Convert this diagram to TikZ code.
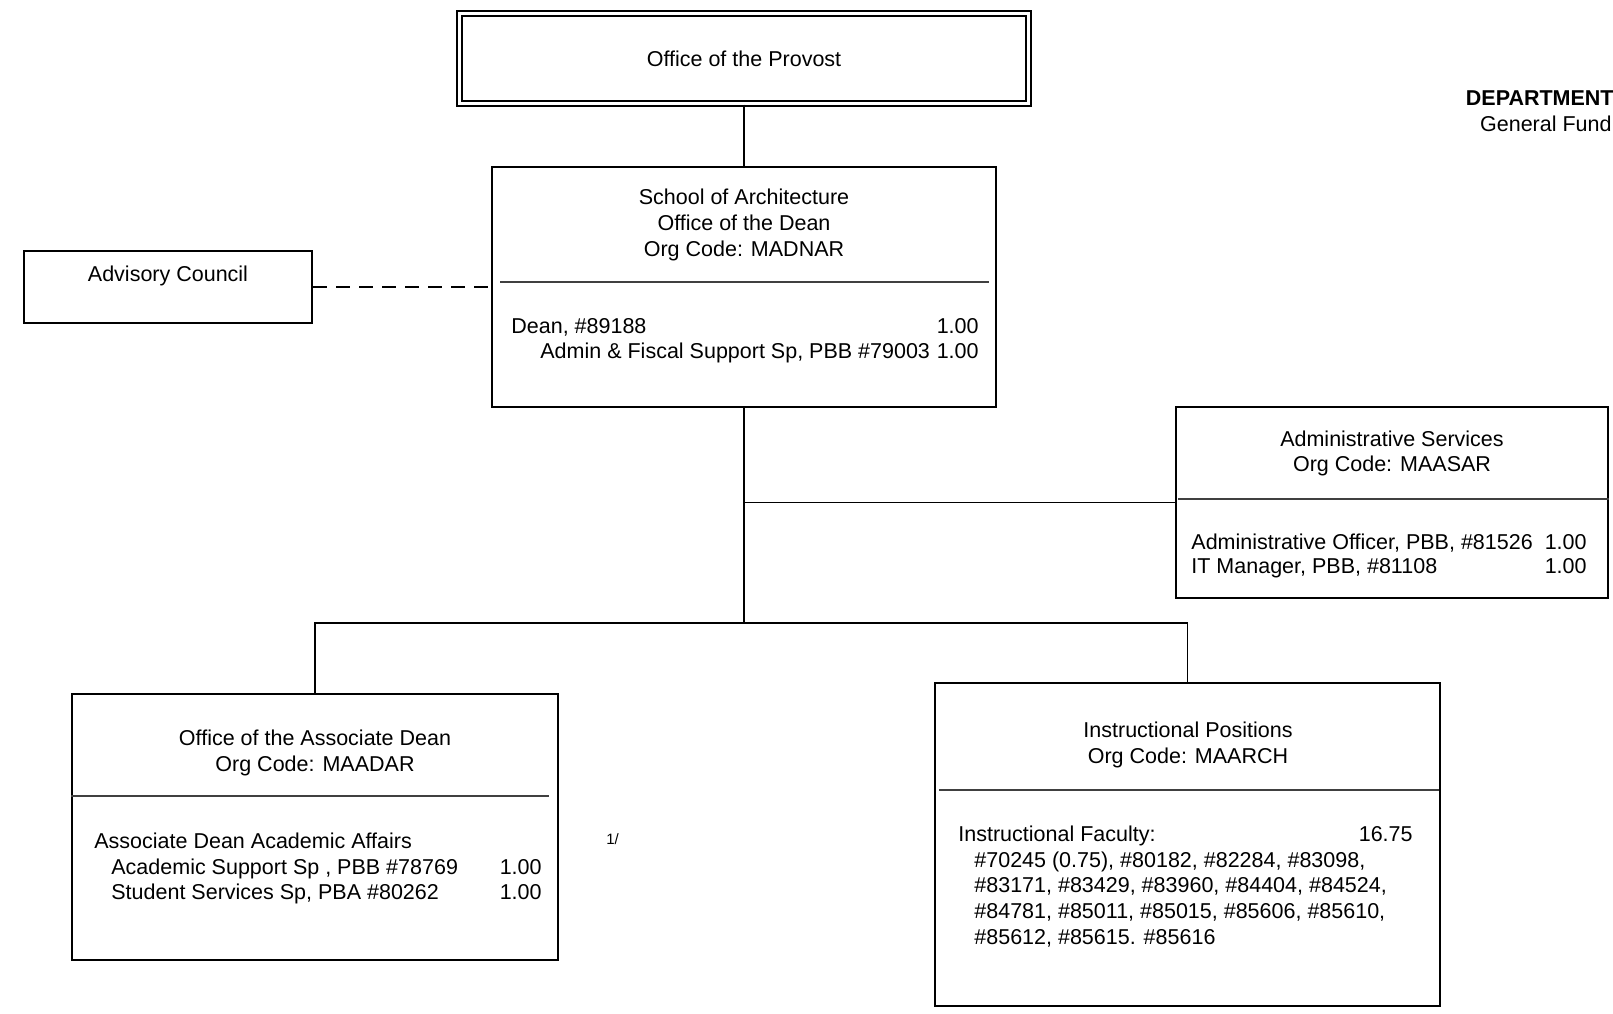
\documentclass[tikz,border=0pt]{standalone}
\usepackage{fontspec}
\setmainfont{Liberation Sans}
\begin{document}
\begin{tikzpicture}[x=0.5pt,y=-0.5pt,
  box/.style={draw=black,line width=1pt,inner sep=0pt,rectangle},
  sep/.style={draw=black!75,line width=0.7pt},
  conn/.style={draw=black,line width=0.9pt},
  txt/.style={inner sep=0pt,font=\fontsize{10.75pt}{12.85pt}\selectfont},
  tl/.style={txt,anchor=base west},
  tc/.style={txt,anchor=base},
  tr/.style={txt,anchor=base east}]
\useasboundingbox (0,0) rectangle (1613,1013);

% boxes
\node[box,double,double distance=1.5pt,minimum width=284.5pt,minimum height=45pt] (provost) at (744,58.5) {};
\node[box,minimum width=252pt,minimum height=120pt] (dean) at (744,287) {};
\node[box,minimum width=144pt,minimum height=36pt] (adv) at (168,287) {};
\node[box,minimum width=216pt,minimum height=95.5pt] (admin) at (1392,502.5) {};
\node[box,minimum width=243pt,minimum height=133pt] (assoc) at (315,827) {};
\node[box,minimum width=252.5pt,minimum height=161.5pt] (instr) at (1187.5,844.5) {};

% separators
\draw[sep] ([shift={(9,116)}]dean.north west) -- ([shift={(-8,116)}]dean.north east);
\draw[sep] ([shift={(3,93)}]admin.north west) -- ([shift={(0,93)}]admin.north east);
\draw[sep] ([shift={(0,103)}]assoc.north west) -- ([shift={(-10,103)}]assoc.north east);
\draw[sep] ([shift={(5,108)}]instr.north west) -- ([shift={(-2,108)}]instr.north east);

% connectors
\coordinate (bar) at (744,623);
\draw[conn] (provost.south) -- (dean.north);
\draw[conn,dash pattern=on 7pt off 4.5pt] (adv.east) -- (dean.west);
\draw[conn] (dean.south) -- (bar);
\draw[conn] (dean.south |- admin.west) -- (admin.west);
\draw[conn] (assoc.north) -- (assoc.north |- bar) -- (instr.north |- bar) -- (instr.north);

% texts
\node[tc] (tprov) at (744,66) {Office of the Provost};

\node[tr,font=\bfseries\fontsize{10.75pt}{12.85pt}\selectfont] (tdept) at (1614,105) {DEPARTMENT};
\node[tr] (tfund) at (1612,131) {General Fund};

\node[tc] (td1) at (744,204) {School of Architecture};
\node[tc] (td2) at (744,230) {Office of the Dean};
\node[tc] (td3) at (744,256) {Org Code: MADNAR};
\node[tl] (td4) at (511,333) {Dean, \#89188};
\node[tr] (td4n) at (979,333) {1.00};
\node[tl] (td5) at (540,358) {Admin \& Fiscal Support Sp, PBB \#79003};
\node[tr] (td5n) at (979,358) {1.00};

\node[tc] (tadv) at (168,281) {Advisory Council};

\node[tc] (ta1) at (1392,446) {Administrative Services};
\node[tc] (ta2) at (1392,471) {Org Code: MAASAR};
\node[tl] (ta3) at (1191,549) {Administrative Officer, PBB, \#81526};
\node[tr] (ta3n) at (1587,549) {1.00};
\node[tl] (ta4) at (1191,573) {IT Manager, PBB, \#81108};
\node[tr] (ta4n) at (1587,573) {1.00};

\node[tc] (tas1) at (315,745) {Office of the Associate Dean};
\node[tc] (tas2) at (315,771) {Org Code: MAADAR};
\node[tl] (tas3) at (94,848) {Associate Dean Academic Affairs};
\node[tl] (tas4) at (111,874) {Academic Support Sp , PBB \#78769};
\node[tr] (tas4n) at (542,874) {1.00};
\node[tl] (tas5) at (111,899) {Student Services Sp, PBA \#80262};
\node[tr] (tas5n) at (542,899) {1.00};
\node[inner sep=0pt,anchor=base west,font=\fontsize{7.5pt}{9pt}\selectfont] (tnote) at (606,844) {1/};

\node[tc] (ti1) at (1188,737) {Instructional Positions};
\node[tc] (ti2) at (1188,763) {Org Code: MAARCH};
\node[tl] (ti3) at (958,841) {Instructional Faculty:};
\node[tr] (ti3n) at (1413,841) {16.75};
\node[tl] (ti4) at (974,867) {\#70245 (0.75), \#80182, \#82284, \#83098,};
\node[tl] (ti5) at (974,892) {\#83171, \#83429, \#83960, \#84404, \#84524,};
\node[tl] (ti6) at (974,918) {\#84781, \#85011, \#85015, \#85606, \#85610,};
\node[tl] (ti7) at (974,944) {\#85612, \#85615. \#85616};
\end{tikzpicture}
\end{document}
